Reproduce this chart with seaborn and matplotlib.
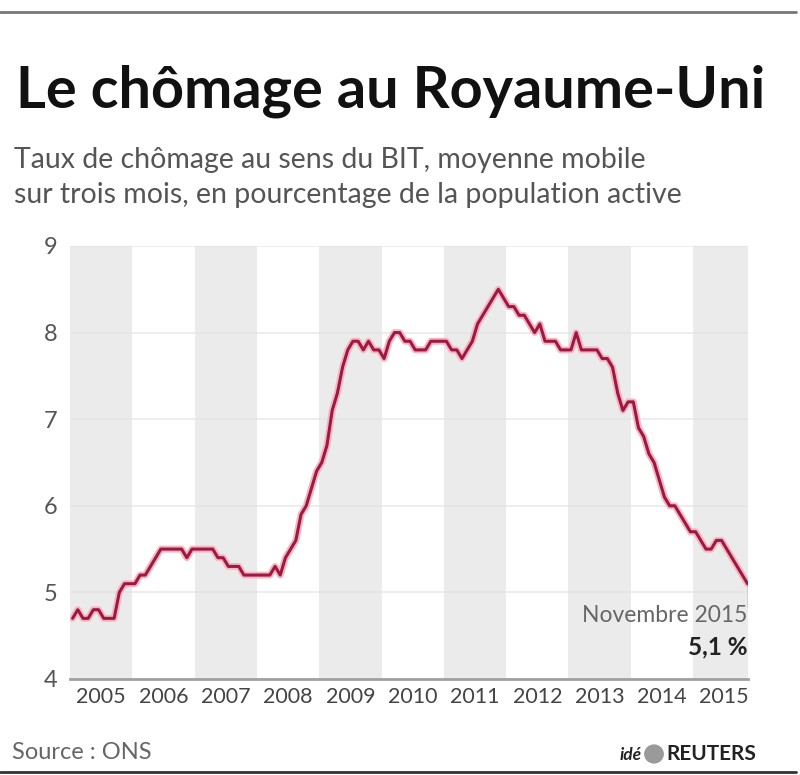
import numpy as np
import pandas as pd
import matplotlib
matplotlib.use("Agg")
import matplotlib.pyplot as plt
import seaborn as sns

sns.set_theme(style="white")
plt.rcParams['font.family'] = ['Lato', 'DejaVu Sans']

# Data: UK unemployment rate (ILO, 3-month rolling avg), monthly Jan 2005 - Nov 2015
start_year = 2005
rates = [
    4.7, 4.8, 4.7, 4.7, 4.8, 4.8, 4.7, 4.7, 4.7, 5.0,
    5.1, 5.1, 5.1, 5.2, 5.2, 5.3, 5.4, 5.5, 5.5, 5.5,
    5.5, 5.5, 5.4, 5.5, 5.5, 5.5, 5.5, 5.5, 5.4, 5.4,
    5.3, 5.3, 5.3, 5.2, 5.2, 5.2, 5.2, 5.2, 5.2, 5.3,
    5.2, 5.4, 5.5, 5.6, 5.9, 6.0, 6.2, 6.4, 6.5, 6.7,
    7.1, 7.3, 7.6, 7.8, 7.9, 7.9, 7.8, 7.9, 7.8, 7.8,
    7.7, 7.9, 8.0, 8.0, 7.9, 7.9, 7.8, 7.8, 7.8, 7.9,
    7.9, 7.9, 7.9, 7.8, 7.8, 7.7, 7.8, 7.9, 8.1, 8.2,
    8.3, 8.4, 8.5, 8.4, 8.3, 8.3, 8.2, 8.2, 8.1, 8.0,
    8.1, 7.9, 7.9, 7.9, 7.8, 7.8, 7.8, 8.0, 7.8, 7.8,
    7.8, 7.8, 7.7, 7.7, 7.6, 7.3, 7.1, 7.2, 7.2, 6.9,
    6.8, 6.6, 6.5, 6.3, 6.1, 6.0, 6.0, 5.9, 5.8, 5.7,
    5.7, 5.6, 5.5, 5.5, 5.6, 5.6, 5.5, 5.4, 5.3, 5.2, 5.1,
]
years = list(range(2005, 2016))
y_ticks = [4, 5, 6, 7, 8, 9]
last_label = "Novembre 2015"
last_value = "5,1 %"

df = pd.DataFrame({"rate": rates})
df["t"] = start_year + (np.arange(len(df)) + 0.5) / 12

fig = plt.figure(figsize=(8, 7.75), dpi=100)
ax = fig.add_axes([0.0875, 0.1239, 0.8469, 0.5587])

# alternating year bands
for k, yr in enumerate(years):
    if k % 2 == 0:
        ax.axvspan(yr, yr + 1, color='#ebebeb', lw=0, zorder=0)
for v in y_ticks[1:]:
    ax.axhline(v, color='#e2e2e2', lw=1.2, alpha=0.7, zorder=1)

sns.lineplot(data=df, x="t", y="rate", ax=ax, color='#f2b8c6', lw=5, zorder=2)
sns.lineplot(data=df, x="t", y="rate", ax=ax, color='#a0173f', lw=2.2, zorder=3)

ax.set_xlim(start_year, df["t"].iloc[-1])
ax.set_ylim(4, 9)
ax.set_yticks(y_ticks)
ax.set_yticklabels([str(v) for v in y_ticks], fontsize=17, color='#555555')
ax.set_xticks([y + 0.5 for y in years])
ax.set_xticklabels([str(y) for y in years], fontsize=15.5, color='#444444')
ax.tick_params(axis='both', length=0)
ax.tick_params(axis='y', pad=9)
ax.tick_params(axis='x', pad=6)
ax.set_xlabel("")
ax.set_ylabel("")
for s in ['top', 'right', 'left']:
    ax.spines[s].set_visible(False)
ax.spines['bottom'].set_color('#a0a0a0')
ax.spines['bottom'].set_linewidth(2)
ax.spines['bottom'].set_zorder(4)

# end annotation
x_end = df["t"].iloc[-1]
y_end = df["rate"].iloc[-1]
ax.plot([x_end, x_end], [y_end, y_end - 0.27], color='#777777', lw=1, zorder=3)
ax.text(x_end, y_end - 0.25, last_label, ha='right', va='top', fontsize=16.5,
        color='#666666', zorder=5)
ax.text(x_end, y_end - 0.6, last_value, ha='right', va='top', fontsize=17.5,
        fontweight='bold', color='#222222', zorder=5)

# header and footer
fig.add_artist(plt.Line2D([0, 0.995], [1 - 12 / 775, 1 - 12 / 775], color='#777777', lw=2))
fig.add_artist(plt.Line2D([0, 0.995], [1 - 772 / 775, 1 - 772 / 775], color='#333333', lw=2))
fig.text(0.02, 1 - 107 / 775, "Le chômage au Royaume-Uni", fontsize=41.5,
         fontweight='bold', color='#111111', va='baseline')
fig.text(0.018, 1 - 168 / 775, "Taux de chômage au sens du BIT, moyenne mobile",
         fontsize=20.5, color='#555555', va='baseline')
fig.text(0.018, 1 - 203 / 775, "sur trois mois, en pourcentage de la population active",
         fontsize=20.5, color='#555555', va='baseline')
fig.text(0.015, 1 - 759 / 775, "Source : ONS", fontsize=17, color='#666666', va='baseline')
fig.text(0.775, 1 - 760 / 775, "idé", fontsize=12.5, fontweight='bold', style='italic',
         color='#222222', va='baseline')
fig.add_artist(matplotlib.patches.Circle((0.8175, 1 - 754 / 775), 0.0115, color='#9a9a9a',
                                         transform=fig.transFigure))
fig.text(0.8335, 1 - 760 / 775, "REUTERS", fontsize=15, fontweight='bold',
         color='#222222', va='baseline')

fig.savefig("out.png", dpi=100)
